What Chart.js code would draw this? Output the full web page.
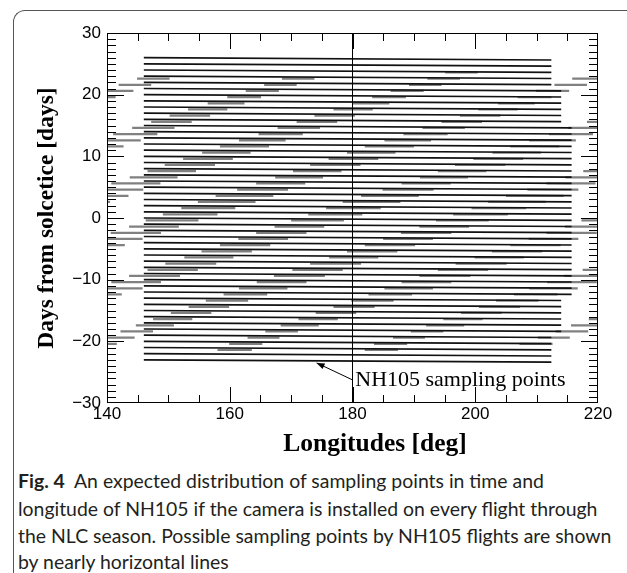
<!DOCTYPE html>
<html><head><meta charset="utf-8">
<script src="https://cdn.jsdelivr.net/npm/chart.js@4.4.1/dist/chart.umd.min.js"></script>
<style>
html,body{margin:0;padding:0;background:#fff;}
body{width:627px;height:573px;position:relative;overflow:hidden;}
#frame{position:absolute;left:13px;top:10px;width:720px;height:700px;border-top:1px solid #555;border-left:1px solid #555;border-top-left-radius:12px;}
#wrap{position:absolute;left:0;top:0;width:627px;height:460px;}
.cap{position:absolute;left:18px;font-family:Lato,'Noto Sans',sans-serif;font-size:19px;color:#231f20;white-space:nowrap;line-height:1;}
</style></head><body>
<div id="frame"></div>
<div id="wrap"><canvas id="c" width="627" height="460"></canvas></div>
<div class="cap" id="l1"><b>Fig. 4</b>&nbsp; An expected distribution of sampling points in time and</div>
<div class="cap" id="l2">longitude of NH105 if the camera is installed on every flight through</div>
<div class="cap" id="l3">the NLC season. Possible sampling points by NH105 flights are shown</div>
<div class="cap" id="l4">by nearly horizontal lines</div>
<script>
// ---- data ----
const xLabelTicks = [140,160,180,200,220];
const xMinorTicks = [145,150,155,160,165,170,175,180,185,190,195,200,205,210,215];
const xMajorTicks = [160,180,200];
const yLabelTicks = [-30,-20,-10,0,10,20,30];
const yMinorTicks = [-29,-28,-27,-26,-25,-24,-23,-22,-21,-20,-19,-18,-17,-16,-15,-14,-13,-12,-11,-10,-9,-8,-7,-6,-5,-4,-3,-2,-1,0,1,2,3,4,5,6,7,8,9,10,11,12,13,14,15,16,17,18,19,20,21,22,23,24,25,26,27,28,29];
const yMajorTicks = [-20,-10,0,10,20];

// NH105 flight lines: day at start (146 deg), end longitude, day at end
const lineStartLon = [146,146,146,146,146,146,146,146,146,146,146,146,146,146,146,146,146,146,146,146,146,146,146,146,146,146,146,146,146,146,146,146,146,146,146,146,146,146,146,146,146,146,146,146,146,146,146,146,146,146];
const lineStartDay = [26,25,24,23,22,21,20,19,18,17,16,15,14,13,12,11,10,9,8,7,6,5,4,3,2,1,0,-1,-2,-3,-4,-5,-6,-7,-8,-9,-10,-11,-12,-13,-14,-15,-16,-17,-18,-19,-20,-21,-22,-23];
const lineEndLon = [212.4,212.4,212.4,212.4,212.4,214.0,214.0,214.0,214.0,214.0,214.0,215.7,215.7,215.7,215.7,215.7,215.7,215.7,215.7,215.7,215.7,215.7,215.7,215.7,215.7,215.7,215.7,215.7,215.7,215.7,215.7,215.7,215.7,215.7,215.7,215.7,215.7,215.7,215.7,214.0,214.0,214.0,214.0,214.0,214.0,212.4,212.4,212.4,212.4,212.4];
const lineEndDay = [25.62,24.62,23.62,22.62,21.62,20.62,19.62,18.62,17.62,16.62,15.62,14.62,13.62,12.62,11.62,10.62,9.62,8.62,7.62,6.62,5.62,4.62,3.62,2.62,1.62,0.62,-0.38,-1.38,-2.38,-3.38,-4.38,-5.38,-6.38,-7.38,-8.38,-9.38,-10.38,-11.38,-12.38,-13.38,-14.38,-15.38,-16.38,-17.38,-18.38,-19.38,-20.38,-21.38,-22.38,-23.38];

// gray segments: row day and [from,to] longitudes
const grayY = [23.6,22.6,21.6,20.6,19.6,18.6,17.6,16.6,15.6,14.6,13.6,12.6,11.6,10.6,9.6,8.6,7.6,6.6,5.6,4.6,3.6,2.6,1.6,0.6,-0.4,-1.4,-2.4,-3.4,-4.4,-5.4,-6.4,-7.4,-8.4,-9.4,-10.4,-11.4,-12.4,-13.4,-14.4,-15.4,-16.4,-17.4,-18.4,-19.4,-20.4,-21.4];
const graySegs = [
 [[195.1,200.4]],
 [[144.9,150.2],[168.5,173.8],[192.2,197.5],[215.8,221.1]],
 [[141.9,147.2],[165.6,170.9],[189.2,194.5],[212.9,218.2]],
 [[138.9,144.3],[162.6,168.0],[186.2,191.6],[209.9,215.3]],
 [[135.9,141.4],[159.6,165.1],[183.2,188.7],[206.9,212.4]],
 [[156.4,162.4],[180.0,186.0],[203.7,209.7]],
 [[153.2,159.6],[176.9,183.3],[200.5,206.9]],
 [[150.2,156.8],[173.8,180.4],[197.5,204.1]],
 [[147.2,153.8],[170.9,177.5],[194.5,201.1],[218.2,224.8]],
 [[144.1,151.0],[167.8,174.7],[191.4,198.3],[215.1,222.0]],
 [[141.0,148.2],[164.7,171.9],[188.3,195.5],[212.0,219.2]],
 [[137.9,145.5],[161.5,169.1],[185.2,192.8],[208.8,216.4]],
 [[134.7,142.7],[158.4,166.4],[182.0,190.0],[205.7,213.7]],
 [[155.5,163.4],[179.1,187.0],[202.8,210.7]],
 [[152.4,160.5],[176.1,184.2],[199.7,207.8]],
 [[149.4,157.6],[173.1,181.3],[196.7,204.9]],
 [[146.6,154.5],[170.3,178.2],[193.9,201.8],[217.6,225.5]],
 [[143.7,151.5],[167.4,175.2],[191.0,198.8],[214.7,222.5]],
 [[140.7,148.7],[164.3,172.3],[188.0,196.0],[211.6,219.6]],
 [[137.6,145.9],[161.2,169.5],[184.9,193.2],[208.5,216.8]],
 [[134.1,143.5],[157.7,167.1],[181.4,190.8],[205.0,214.4]],
 [[131.1,140.5],[154.8,164.2],[178.4,187.8],[202.1,211.5]],
 [[152.1,160.9],[175.7,184.6],[199.4,208.3]],
 [[149.1,158.0],[172.8,181.6],[196.4,205.3]],
 [[146.3,154.9],[170.0,178.6],[193.6,202.2],[217.3,225.9]],
 [[143.6,151.7],[167.3,175.4],[190.9,199.0],[214.6,222.7]],
 [[140.6,148.8],[164.3,172.5],[187.9,196.1],[211.6,219.8]],
 [[137.7,145.8],[161.4,169.5],[185.0,193.1],[208.7,216.8]],
 [[134.7,142.9],[158.4,166.6],[182.0,190.2],[205.7,213.9]],
 [[155.4,163.6],[179.1,187.3],[202.7,210.9]],
 [[152.6,160.6],[176.2,184.2],[199.9,207.9]],
 [[149.5,157.8],[173.1,181.4],[196.8,205.1]],
 [[146.6,154.8],[170.2,178.4],[193.9,202.1],[217.5,225.7]],
 [[143.6,151.9],[167.2,175.5],[190.9,199.2],[214.5,222.8]],
 [[140.7,148.8],[164.4,172.5],[188.0,196.1],[211.7,219.8]],
 [[137.9,145.8],[161.5,169.4],[185.2,193.1],[208.8,216.7]],
 [[135.3,142.4],[159.0,166.1],[182.6,189.7],[206.3,213.4]],
 [[156.1,163.0],[179.8,186.7],[203.4,210.3]],
 [[153.3,159.9],[176.9,183.6],[200.6,207.3]],
 [[150.4,157.0],[174.0,180.6],[197.7,204.3]],
 [[147.5,153.9],[171.2,177.6],[194.8,201.2],[218.5,224.9]],
 [[144.7,150.9],[168.3,174.5],[192.0,198.2],[215.6,221.8]],
 [[142.2,147.5],[165.8,171.1],[189.5,194.8],[213.1,218.4]],
 [[139.3,144.5],[162.9,168.1],[186.6,191.8],[210.2,215.4]],
 [[136.2,141.6],[159.9,165.3],[183.5,188.9],[207.2,212.6]],
 [[158.0,163.6],[182.0,187.4]]
];

const refLineLon = [180,180];
const refLineDay = [-30,30];
const annText = 'NH105 sampling points';
const annTextAt = [180.45,-26.35];
const annArrowFrom = [180.0,-26.25];
const annArrowTo = [174.15,-23.5];

// ---- caption fit ----
(function(){
  const m = document.createElement('canvas').getContext('2d');
  m.font = "19px Lato";
  const w = m.measureText('the NLC season. Possible sampling points by NH105 flights are shown').width;
  const fs = 19*594/w;
  const tops = [471,499,526,552];
  ['l1','l2','l3','l4'].forEach((id,i)=>{const e=document.getElementById(id);e.style.fontSize=fs.toFixed(2)+'px';e.style.top=tops[i]+'px';});
})();

// ---- build datasets ----
const blackData = [];
for (let i=0;i<lineStartDay.length;i++){
  blackData.push({x:lineStartLon[i],y:lineStartDay[i]});
  blackData.push({x:lineEndLon[i],y:lineEndDay[i]});
  blackData.push({x:lineEndLon[i],y:null});
}
const grayData = [];
for (let i=0;i<grayY.length;i++){
  for (const s of graySegs[i]){
    grayData.push({x:s[0],y:grayY[i]});
    grayData.push({x:s[1],y:grayY[i]});
    grayData.push({x:s[1],y:null});
  }
}
const refData = refLineLon.map((v,i)=>({x:v,y:refLineDay[i]}));

const CA = {left:107,right:598,top:33,bottom:403};

const framePlugin = {
  id:'frameTicks',
  afterDatasetsDraw(chart){
    const {ctx, chartArea:a, scales:{x,y}} = chart;
    ctx.save();
    ctx.strokeStyle='#000'; ctx.lineWidth=1;
    ctx.strokeRect(a.left+0.5,a.top+0.5,a.right-a.left-1,a.bottom-a.top-1);
    ctx.beginPath();
    for (const v of xMinorTicks){
      const px = Math.round(x.getPixelForValue(v))+0.5;
      const len = xMajorTicks.includes(v)?16:8;
      ctx.moveTo(px,a.bottom); ctx.lineTo(px,a.bottom-len);
      ctx.moveTo(px,a.top); ctx.lineTo(px,a.top+len);
    }
    for (const v of yMinorTicks){
      const py = Math.round(y.getPixelForValue(v))+0.5;
      const len = yMajorTicks.includes(v)?17:9;
      ctx.moveTo(a.left,py); ctx.lineTo(a.left+len,py);
      ctx.moveTo(a.right,py); ctx.lineTo(a.right-len,py);
    }
    ctx.stroke();
    // annotation
    const fx=x.getPixelForValue(annArrowFrom[0]), fy=y.getPixelForValue(annArrowFrom[1]);
    const tx=x.getPixelForValue(annArrowTo[0]), ty=y.getPixelForValue(annArrowTo[1]);
    ctx.beginPath(); ctx.moveTo(fx,fy); ctx.lineTo(tx,ty); ctx.stroke();
    const ang=Math.atan2(ty-fy,tx-fx);
    ctx.beginPath();
    ctx.moveTo(tx,ty);
    ctx.lineTo(tx-8*Math.cos(ang)+3*Math.sin(ang), ty-8*Math.sin(ang)-3*Math.cos(ang));
    ctx.lineTo(tx-8*Math.cos(ang)-3*Math.sin(ang), ty-8*Math.sin(ang)+3*Math.cos(ang));
    ctx.closePath(); ctx.fillStyle='#000'; ctx.fill();
    ctx.font = "22px 'Liberation Serif', 'Times New Roman', serif";
    ctx.textBaseline='middle'; ctx.textAlign='left';
    ctx.fillText(annText, x.getPixelForValue(annTextAt[0]), y.getPixelForValue(annTextAt[1]));
    // axis titles
    ctx.textAlign='center';
    ctx.font = "bold 25.5px 'Liberation Serif', 'Times New Roman', serif";
    ctx.fillText('Longitudes [deg]', 375, 444);
    ctx.font = "bold 23.5px 'Liberation Serif', 'Times New Roman', serif";
    ctx.save(); ctx.translate(47,(a.top+a.bottom)/2); ctx.rotate(-Math.PI/2);
    ctx.fillText('Days from solcetice [days]',0,0); ctx.restore();
    ctx.restore();
  }
};

const tickFont = {family:"'Liberation Sans', Arial, sans-serif", size:17};
new Chart(document.getElementById('c'),{
  type:'scatter',
  data:{datasets:[
    {data:grayData, showLine:true, borderColor:'#808080', borderWidth:2.2, pointRadius:0, spanGaps:false, order:3},
    {data:blackData, showLine:true, borderColor:'#111', borderWidth:1.7, pointRadius:0, spanGaps:false, order:2},
    {data:refData, showLine:true, borderColor:'#000', borderWidth:1, pointRadius:0, order:1}
  ]},
  options:{
    responsive:false, animation:false, events:[],
    layout:{padding:{left:0,top:CA.top,right:627-CA.right,bottom:0}},
    plugins:{legend:{display:false},tooltip:{enabled:false}},
    scales:{
      x:{type:'linear',min:140,max:220,
        afterBuildTicks(s){s.ticks=xLabelTicks.map(v=>({value:v}));},
        afterFit(s){s.height=460-CA.bottom;s.paddingLeft=0;s.paddingRight=0;s.paddingTop=0;s.paddingBottom=0;},
        ticks:{font:tickFont,color:'#000',padding:1,maxRotation:0,autoSkip:false},
        grid:{display:false,drawTicks:false},border:{display:false}},
      y:{type:'linear',min:-30,max:30,
        afterBuildTicks(s){s.ticks=yLabelTicks.map(v=>({value:v}));},
        afterFit(s){s.width=CA.left;s.paddingLeft=0;s.paddingRight=0;s.paddingTop=0;s.paddingBottom=0;},
        ticks:{font:tickFont,color:'#000',padding:6,autoSkip:false,callback:v=>v<0?'\u2212'+Math.abs(v):String(v)},
        grid:{display:false,drawTicks:false},border:{display:false}}
    }
  },
  plugins:[framePlugin]
});
</script>
</body></html>
